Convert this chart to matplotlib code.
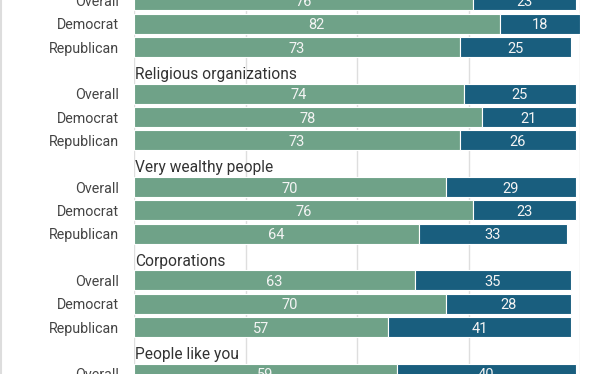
import matplotlib
matplotlib.use('Agg')
import matplotlib.pyplot as plt
from matplotlib.lines import Line2D

plt.rcParams['font.family'] = ['Roboto', 'DejaVu Sans']

# chart data (top group title and lower rows are cropped out of the picture)
groups = ['', 'Religious organizations', 'Very wealthy people', 'Corporations', 'People like you']
subgroups = ['Overall', 'Democrat', 'Republican']
green_vals = [[76, 82, 73], [74, 78, 73], [70, 76, 64], [63, 70, 57], [59]]
blue_vals = [[23, 18, 25], [25, 21, 26], [29, 23, 33], [35, 28, 41], [40]]

GREEN = '#6fa288'
BLUE = '#195e7e'

fig = plt.figure(figsize=(6.12, 3.74), dpi=100)
ax = fig.add_axes([134 / 612, 0, (580 - 134) / 612, 1])

tick_pos = []
tick_lab = []
for g, name in enumerate(groups):
    hdr = 4 * g - 1
    ax.text(0.3, hdr + 0.37, name, ha='left', va='baseline', fontsize=11.2, color='#333333')
    for i, (gv, bv) in enumerate(zip(green_vals[g], blue_vals[g])):
        y = 4 * g + i
        ax.barh(y, gv, height=0.86, color=GREEN, edgecolor='white', linewidth=0.8)
        ax.barh(y, bv, left=gv, height=0.86, color=BLUE, edgecolor='white', linewidth=0.8)
        ax.text(gv / 2, y, str(gv), ha='center', va='center_baseline', fontsize=10.5, color='#f4f4f4')
        ax.text(gv + bv / 2, y, str(bv), ha='center', va='center_baseline', fontsize=10.5, color='#f4f4f4')
        tick_pos.append(y)
        tick_lab.append(subgroups[i])

ax.set_xlim(0, 100)
ax.set_ylim(16.013, -0.019)
ax.set_xticks([0, 25, 50, 75, 100])
ax.set_xticklabels([])
ax.set_yticks(tick_pos)
ax.set_yticklabels(tick_lab, fontsize=10.3, color='#444444')
ax.tick_params(axis='both', length=0)
ax.tick_params(axis='y', pad=10.5)
ax.grid(axis='x', color='#dedede', linewidth=1)
ax.set_axisbelow(True)
for s in ax.spines.values():
    s.set_visible(False)

# thin frame line at the left edge of the picture
fig.add_artist(Line2D([0.0015, 0.0015], [0, 1], color='#dddddd', linewidth=1.5))

fig.savefig('out.png', dpi=100)
